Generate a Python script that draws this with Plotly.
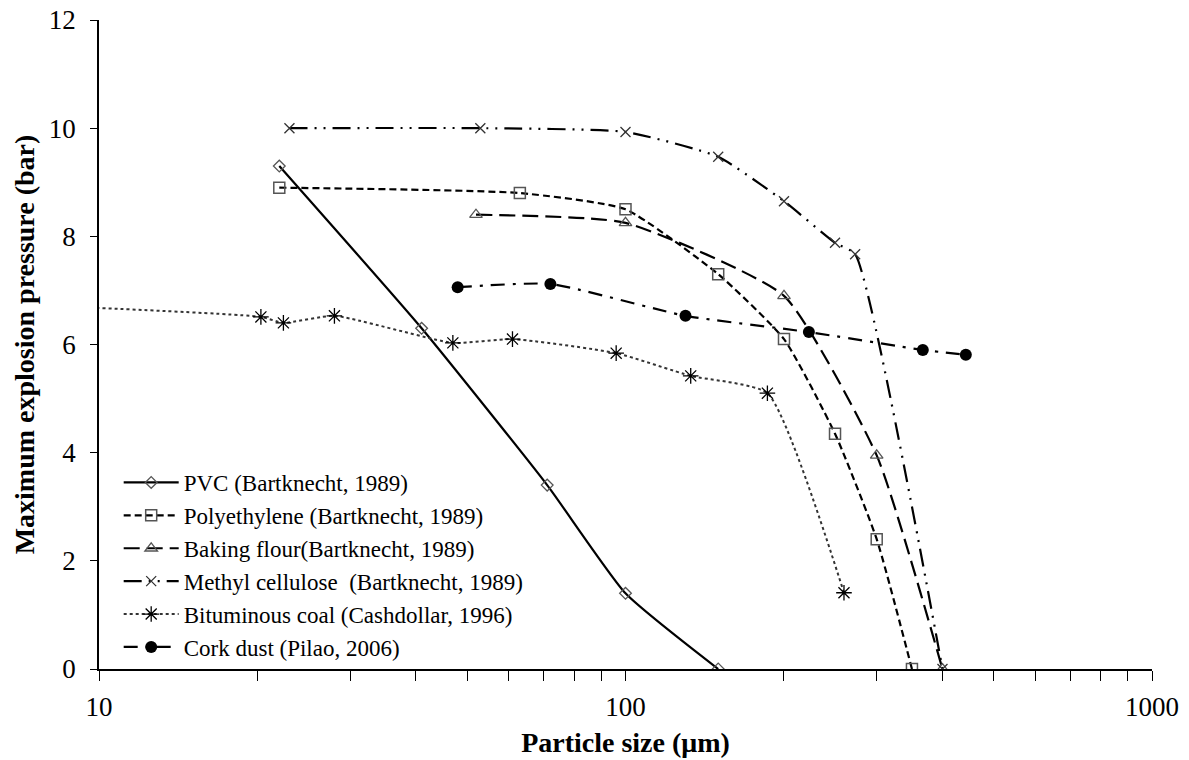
import plotly.graph_objects as go

# Particle size (µm) and maximum explosion pressure (bar) per dust
pvc_x = [22, 41, 71, 100, 150]
pvc_y = [9.3, 6.3, 3.4, 1.4, 0]

pe_x = [22, 63, 100, 150, 200, 250, 300, 350]
pe_y = [8.9, 8.8, 8.5, 7.3, 6.1, 4.35, 2.4, 0]

flour_x = [52, 100, 200, 300, 400]
flour_y = [8.4, 8.25, 6.9, 3.95, 0]

mc_x = [23, 53, 100, 150, 200, 250, 273, 400]
mc_y = [10.0, 10.0, 9.93, 9.47, 8.65, 7.88, 7.67, 0]

coal_x = [5, 20.3, 22.4, 28, 47, 61, 96, 133, 186, 260]
coal_y = [6.8, 6.51, 6.4, 6.53, 6.03, 6.1, 5.84, 5.42, 5.1, 1.41]

cork_x = [48, 72, 130, 223, 367, 443]
cork_y = [7.06, 7.12, 6.53, 6.23, 5.9, 5.81]

x_tick_vals = [10, 20, 30, 40, 50, 60, 70, 80, 90,
               100, 200, 300, 400, 500, 600, 700, 800, 900, 1000]
x_tick_text = ["10", "", "", "", "", "", "", "", "",
               "100", "", "", "", "", "", "", "", "", "1000"]
y_tick_vals = [0, 2, 4, 6, 8, 10, 12]

SERIF = "Liberation Serif"
GRAY = "#555555"
SMOOTH = 0.5

fig = go.Figure()

fig.add_trace(go.Scatter(
    x=pvc_x, y=pvc_y, mode="lines+markers", name="PVC (Bartknecht, 1989)",
    line=dict(color="black", width=2.2, dash="solid", shape="spline", smoothing=SMOOTH),
    marker=dict(symbol="diamond-open", size=9, color=GRAY, line=dict(width=1.3)),
))
fig.add_trace(go.Scatter(
    x=pe_x, y=pe_y, mode="lines+markers", name="Polyethylene (Bartknecht, 1989)",
    line=dict(color="black", width=2.2, dash="7px,4px", shape="spline", smoothing=SMOOTH),
    marker=dict(symbol="square-open", size=11, color=GRAY, line=dict(width=1.5)),
))
fig.add_trace(go.Scatter(
    x=flour_x, y=flour_y, mode="lines+markers", name="Baking flour(Bartknecht, 1989)",
    line=dict(color="black", width=2.2, dash="16px,7px", shape="spline", smoothing=SMOOTH),
    marker=dict(symbol="triangle-up-open", size=11, color=GRAY, line=dict(width=1.3)),
))
fig.add_trace(go.Scatter(
    x=mc_x, y=mc_y, mode="lines+markers", name="Methyl cellulose  (Bartknecht, 1989)",
    line=dict(color="black", width=2.2, dash="18px,7px,2px,7px,2px,7px",
              shape="spline", smoothing=SMOOTH),
    marker=dict(symbol="x-thin-open", size=10, color="#333333", line=dict(width=1.3)),
))
fig.add_trace(go.Scatter(
    x=coal_x, y=coal_y, mode="lines+markers", name="Bituminous coal (Cashdollar, 1996)",
    line=dict(color="#333333", width=2, dash="dot", shape="spline", smoothing=SMOOTH),
    marker=dict(symbol="asterisk-open", size=13, color="black", line=dict(width=1.3)),
))
fig.add_trace(go.Scatter(
    x=cork_x, y=cork_y, mode="lines+markers", name="Cork dust (Pilao, 2006)",
    line=dict(color="black", width=2.2, dash="14px,8px,3px,8px",
              shape="spline", smoothing=SMOOTH),
    marker=dict(symbol="circle", size=12, color="black"),
))

fig.update_layout(
    width=1189, height=760,
    margin=dict(l=99, r=37, t=20, b=91),
    paper_bgcolor="white", plot_bgcolor="white",
    font=dict(family=SERIF, size=23, color="black"),
    showlegend=True,
    legend=dict(
        x=0.0187, y=0.0, xanchor="left", yanchor="bottom",
        bgcolor="rgba(255,255,255,0)", borderwidth=0,
        font=dict(family=SERIF, size=23, color="black"),
        tracegroupgap=0, itemwidth=55,
    ),
    xaxis=dict(
        type="log", range=[1, 3], automargin=False,
        tickmode="array", tickvals=x_tick_vals, ticktext=x_tick_text,
        ticks="outside", ticklen=10, tickwidth=1.3, tickcolor="black",
        ticklabelstandoff=3,
        showline=True, linecolor="black", linewidth=1.8,
        showgrid=False, zeroline=False,
        tickfont=dict(family=SERIF, size=27),
        title=dict(text="<b>Particle size (μm)</b>",
                   font=dict(family=SERIF, size=28), standoff=11),
    ),
    yaxis=dict(
        range=[0, 12], tickmode="array", tickvals=y_tick_vals, automargin=False,
        ticks="outside", ticklen=7, tickwidth=1.3, tickcolor="black",
        ticklabelstandoff=9,
        showline=True, linecolor="black", linewidth=1.8,
        showgrid=False, zeroline=False,
        tickfont=dict(family=SERIF, size=27),
        title=dict(text="<b>Maximum explosion pressure (bar)</b>",
                   font=dict(family=SERIF, size=28), standoff=6),
    ),
)

fig.write_html("out.html")
